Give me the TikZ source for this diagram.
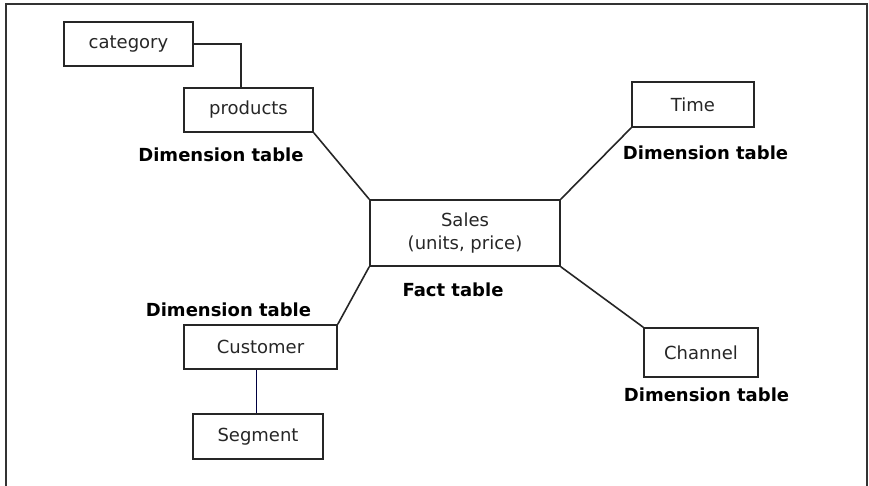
\documentclass[tikz,border=0pt]{standalone}
\usepackage{fontspec}
\setmainfont{DejaVu Sans}
\usepackage{tikz}
\usetikzlibrary{positioning}

\begin{document}
\begin{tikzpicture}[x=1pt,y=-1pt,
                   tbl/.style={draw=black!85,line width=1.6pt,inner sep=0pt,align=center,
                               font=\fontsize{18}{23}\selectfont,text=black!85},
                   lbl/.style={inner sep=0pt,font=\fontsize{18}{20}\selectfont\bfseries}]
\useasboundingbox (0,0) rectangle (869,486);
\draw[line width=2pt,black!80] (6,486) -- (6,4) -- (867,4) -- (867,486);
% tables
\node[tbl,minimum width=129pt,minimum height=44pt] (category) at (128.5,44) {category};
\node[tbl,minimum width=129pt,minimum height=44pt] (products) at (248.5,110) {products};
\node[tbl,minimum width=122pt,minimum height=45pt] (time) at (693,104.5) {Time};
\node[tbl,minimum width=190pt,minimum height=66pt] (sales) at (465,233) {Sales\\(units, price)};
\node[tbl,minimum width=153pt,minimum height=44pt] (customer) at (260.5,347) {Customer};
\node[tbl,minimum width=130pt,minimum height=45pt] (segment) at (258,436.5) {Segment};
\node[tbl,minimum width=114pt,minimum height=49pt] (channel) at (701,352.5) {Channel};
% labels
\node[lbl] (productslbl) at (221,155) {Dimension table};
\node[lbl] (timelbl) at (705.5,153) {Dimension table};
\node[lbl] (saleslbl) at (453,290) {Fact table};
\node[lbl] (customerlbl) at (228.5,310) {Dimension table};
\node[lbl] (channellbl) at (706.5,395) {Dimension table};
% links
\draw[line width=1.6pt,black!85] (category.east) -| (241,88) coordinate (ptop);
\draw[line width=1.6pt,black!85] (products.south east) -- (sales.north west);
\draw[line width=1.6pt,black!85] (time.south west) -- (sales.north east);
\draw[line width=1.6pt,black!85] (sales.south west) -- (customer.north east);
\draw[line width=1.6pt,black!85] (sales.south east) -- (channel.north west);
\draw[line width=1.6pt,blue!25!black] (customer.south) ++(-4,0) coordinate (cbot) -- (cbot |- segment.north);
\end{tikzpicture}
\end{document}
